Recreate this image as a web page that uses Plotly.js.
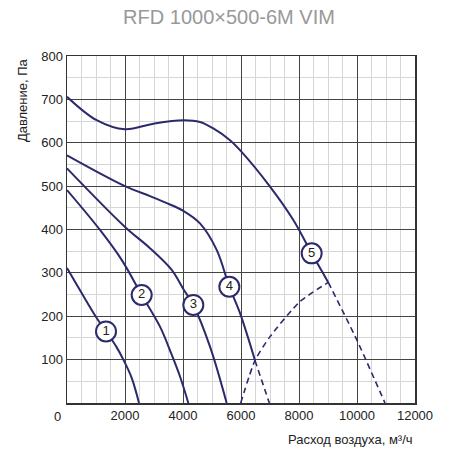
<!DOCTYPE html>
<html><head><meta charset="utf-8">
<script src="https://cdn.plot.ly/plotly-3.0.1.min.js"></script>
<style>html,body{margin:0;padding:0;background:#fff}#chart{width:458px;height:455px}</style>
</head><body><div id="chart"></div>
<script>
// Fan curves (flow m3/h, pressure Pa)
const c1x = [0, 500, 1023, 1345, 1700, 1942, 2230, 2483];
const c1y = [311, 254, 196, 165, 130, 100, 58, 0];
const c2x = [0, 1138, 1885, 2575, 3207, 3600, 3897, 4183];
const c2y = [491, 399, 330, 249, 176, 113, 61, 0];
const c3x = [0, 2000, 2862, 3610, 4010, 4356, 4931, 5506];
const c3y = [541, 406, 357, 307, 263, 226, 130, 0];
const c4x = [0, 2000, 2862, 3400, 4010, 4586, 5161, 5598, 5966, 6483];
const c4y = [571, 500, 477, 462, 443, 414, 353, 268, 207, 98];
const c4dx = [6483, 6977];
const c4dy = [98, 0];
const c5x = [0, 1023, 2000, 2976, 4010, 4586, 5045, 5620, 5966, 7000, 7804, 8437, 9010];
const c5y = [706, 652, 631, 644, 652, 648, 633, 606, 583, 499, 422, 345, 278];
const c5dx = [9010, 9990, 10966];
const c5dy = [278, 146, 0];
// System / limit curve (dashed)
const sysx = [5990, 6483, 7000, 8034, 9010];
const sysy = [0, 98, 153, 234, 278];
// Curve labels
const labX = [1345, 2575, 4356, 5598, 8437];
const labY = [165, 249, 226, 268, 345];
const labT = ['1', '2', '3', '4', '5'];
const xTicks = [2000, 4000, 6000, 8000, 10000, 12000];
const yTicks = [100, 200, 300, 400, 500, 600, 700, 800];

const navy = '#2b2a6b';
const font = 'Liberation Sans, Arial, Helvetica, sans-serif';
const solid = (x, y) => ({x, y, type: 'scatter', mode: 'lines', line: {color: navy, width: 2, shape: 'spline', smoothing: 1}, hoverinfo: 'skip'});
const dashed = (x, y) => ({x, y, type: 'scatter', mode: 'lines', line: {color: navy, width: 1.6, dash: '6px,4px', shape: 'spline', smoothing: 0.6}, hoverinfo: 'skip'});

const data = [
  solid(c1x, c1y), solid(c2x, c2y), solid(c3x, c3y), solid(c4x, c4y), solid(c5x, c5y),
  dashed(c4dx, c4dy), dashed(c5dx, c5dy), dashed(sysx, sysy),
  {x: labX, y: labY, text: labT, type: 'scatter', mode: 'markers+text',
   marker: {size: 20, color: '#fff', line: {color: navy, width: 2}},
   textposition: 'middle center', textfont: {family: font, size: 13, color: '#222'}, hoverinfo: 'skip'}
];

const layout = {
  width: 458, height: 455,
  margin: {l: 67, r: 43, t: 56, b: 52},
  paper_bgcolor: '#fff', plot_bgcolor: '#fff',
  showlegend: false,
  font: {family: font, size: 13, color: '#222'},
  title: {text: 'RFD 1000×500-6M VIM', font: {family: font, size: 20, color: '#999'}, x: 0.5, xanchor: 'center', y: 0.962, yanchor: 'middle'},
  xaxis: {range: [0, 12000], tickvals: xTicks, ticktext: xTicks.map(String), showgrid: true, gridcolor: '#444', gridwidth: 1,
    minor: {dtick: 500, tick0: 0, showgrid: true, gridcolor: '#d6d6d6', gridwidth: 1},
    showline: true, linecolor: '#333', linewidth: 1.5, mirror: true, zeroline: false, ticks: '', tickfont: {size: 13, color: '#222'}, fixedrange: true},
  yaxis: {range: [0, 800], tickvals: yTicks, ticktext: yTicks.map(String), showgrid: true, gridcolor: '#444', gridwidth: 1,
    minor: {dtick: 50, tick0: 0, showgrid: true, gridcolor: '#d6d6d6', gridwidth: 1},
    showline: true, linecolor: '#333', linewidth: 1.5, mirror: true, zeroline: false, ticks: '', tickfont: {size: 13, color: '#222'}, fixedrange: true},
  annotations: [
    {text: '0', xref: 'paper', yref: 'paper', x: -0.0287, y: -0.039, xanchor: 'center', yanchor: 'middle', showarrow: false, font: {size: 13, color: '#222'}},
    {text: 'Давление, Па', xref: 'paper', yref: 'paper', x: -0.129, y: 1.0, xanchor: 'center', yanchor: 'top', textangle: -90, showarrow: false, font: {size: 13, color: '#222'}},
    {text: 'Расход воздуха, м³/ч', xref: 'paper', yref: 'paper', x: 1.0, y: -0.106, xanchor: 'right', yanchor: 'middle', showarrow: false, font: {size: 13, color: '#222'}}
  ]
};
Plotly.newPlot('chart', data, layout, {staticPlot: true, displayModeBar: false});
</script></body></html>
